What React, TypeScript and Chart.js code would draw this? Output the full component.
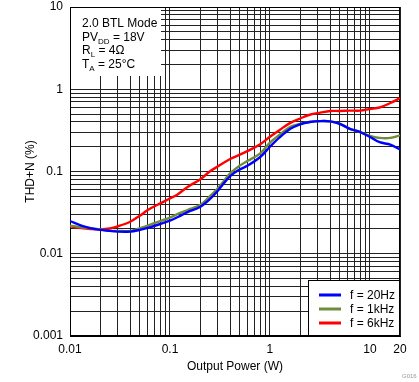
import React, { useEffect, useRef } from 'react';
import { Chart, registerables } from 'chart.js';

Chart.register(...registerables);

// Output power (W)
const power = [0.01, 0.013, 0.016, 0.02, 0.025, 0.03, 0.04, 0.05, 0.06, 0.08, 0.1, 0.12, 0.15, 0.2, 0.25, 0.3, 0.4, 0.5, 0.6, 0.8, 1.0, 1.25, 1.6, 2, 2.5, 3.2, 4, 5, 6.3, 8, 10, 12.5, 16, 20];

// THD+N (%)
const thd20Hz = [0.025, 0.022, 0.0205, 0.0195, 0.019, 0.0186, 0.0186, 0.0195, 0.0206, 0.023, 0.0253, 0.028, 0.032, 0.037, 0.046, 0.058, 0.088, 0.106, 0.118, 0.15, 0.2, 0.26, 0.33, 0.375, 0.4, 0.41, 0.407, 0.38, 0.33, 0.302, 0.263, 0.227, 0.212, 0.185];
const thd1kHz = [0.022, 0.021, 0.0205, 0.0198, 0.019, 0.0189, 0.019, 0.0205, 0.022, 0.025, 0.0275, 0.0305, 0.034, 0.039, 0.05, 0.062, 0.095, 0.118, 0.135, 0.166, 0.225, 0.28, 0.35, 0.38, 0.4, 0.41, 0.407, 0.38, 0.33, 0.302, 0.27, 0.256, 0.256, 0.275];
const thd6kHz = [0.0215, 0.0205, 0.02, 0.0198, 0.0203, 0.0215, 0.0245, 0.029, 0.034, 0.041, 0.047, 0.053, 0.065, 0.08, 0.1, 0.115, 0.142, 0.16, 0.178, 0.215, 0.265, 0.32, 0.39, 0.44, 0.49, 0.52, 0.544, 0.545, 0.55, 0.55, 0.575, 0.6, 0.68, 0.78];

const seriesLabels = ['f = 20Hz', 'f = 1kHz', 'f = 6kHz'];
const seriesColors = ['#0000FF', '#6F8C3A', '#FF0000'];

const xTickLabels = [0.01, 0.1, 1, 10, 20];
const yTickLabels = [0.001, 0.01, 0.1, 1, 10];
const xGridValues = [0.01, 0.02, 0.03, 0.04, 0.05, 0.06, 0.07, 0.08, 0.09, 0.1, 0.2, 0.3, 0.4, 0.5, 0.6, 0.7, 0.8, 0.9, 1, 2, 3, 4, 5, 6, 7, 8, 9, 10, 20];
const yGridValues = [0.001, 0.002, 0.003, 0.004, 0.005, 0.006, 0.007, 0.008, 0.009, 0.01, 0.02, 0.03, 0.04, 0.05, 0.06, 0.07, 0.08, 0.09, 0.1, 0.2, 0.3, 0.4, 0.5, 0.6, 0.7, 0.8, 0.9, 1, 2, 3, 4, 5, 6, 7, 8, 9, 10];

const xTitle = 'Output Power (W)';
const yTitle = 'THD+N (%)';
const figureId = 'G016';

// Info box lines: [main, subscript, rest]
const infoLines: [string, string, string][] = [
  ['2.0 BTL Mode', '', ''],
  ['PV', 'DD', ' = 18V'],
  ['R', 'L', ' = 4Ω'],
  ['T', 'A', ' = 25°C'],
];

const FONT = '"Liberation Sans", Arial, sans-serif';

const overlayPlugin = {
  id: 'overlay',
  beforeDatasetsDraw(chart: any) {
    const { ctx, chartArea } = chart;
    ctx.save();
    // info box
    ctx.fillStyle = '#FFFFFF';
    ctx.fillRect(chartArea.left + 1, chartArea.top + 1, 90, 68);
    ctx.fillStyle = '#000';
    ctx.textBaseline = 'alphabetic';
    let y = chartArea.top + 20;
    const x0 = chartArea.left + 12;
    infoLines.forEach(([a, sub, rest]) => {
      ctx.font = `12px ${FONT}`;
      ctx.fillText(a, x0, y);
      let x = x0 + ctx.measureText(a).width;
      if (sub) {
        ctx.font = `8px ${FONT}`;
        ctx.fillText(sub, x, y + 3);
        x += ctx.measureText(sub).width;
        ctx.font = `12px ${FONT}`;
        ctx.fillText(rest, x, y);
      }
      y += 13.5;
    });
    // border
    ctx.strokeStyle = '#000';
    ctx.lineWidth = 1;
    ctx.strokeRect(chartArea.left + 0.5, chartArea.top + 0.5, chartArea.right - chartArea.left - 1, chartArea.bottom - chartArea.top - 1);
    ctx.restore();
  },
  afterDraw(chart: any) {
    const { ctx, chartArea } = chart;
    ctx.save();
    const w = 92, h = 56;
    const lx = chartArea.right - w;
    const ly = chartArea.bottom - h;
    ctx.fillStyle = '#FFFFFF';
    ctx.fillRect(lx, ly, w, h);
    ctx.strokeStyle = '#000';
    ctx.lineWidth = 1;
    ctx.strokeRect(lx + 0.5, ly + 0.5, w - 1, h - 1);
    chart.data.datasets.forEach((ds: any, i: number) => {
      const ry = ly + 15 + i * 14;
      ctx.strokeStyle = ds.borderColor;
      ctx.lineWidth = 3;
      ctx.beginPath();
      ctx.moveTo(lx + 11, ry);
      ctx.lineTo(lx + 33, ry);
      ctx.stroke();
      ctx.fillStyle = '#000';
      ctx.font = `12px ${FONT}`;
      ctx.textBaseline = 'middle';
      ctx.fillText(ds.label, lx + 42, ry + 1);
    });
    // figure id
    ctx.fillStyle = '#999';
    ctx.font = `6px ${FONT}`;
    ctx.textBaseline = 'alphabetic';
    ctx.fillText(figureId, 402, 378);
    ctx.restore();
  },
};

export default function App() {
  const ref = useRef<HTMLCanvasElement>(null);
  useEffect(() => {
    if (!ref.current) return;
    const series = [thd20Hz, thd1kHz, thd6kHz];
    const chart = new Chart(ref.current, {
      type: 'line',
      data: {
        datasets: series.map((vals, i) => ({
          label: seriesLabels[i],
          data: power.map((p, j) => ({ x: p, y: vals[j] })),
          borderColor: seriesColors[i],
          backgroundColor: seriesColors[i],
          borderWidth: 2.4,
          pointRadius: 0,
          tension: 0.35,
          fill: false,
        })),
      },
      options: {
        animation: false,
        responsive: false,
        devicePixelRatio: 1,
        layout: { padding: { top: 7, right: 19, left: 0, bottom: 0 } },
        plugins: { legend: { display: false }, tooltip: { enabled: false } },
        scales: {
          x: {
            type: 'logarithmic',
            min: 0.01,
            max: 20,
            afterBuildTicks: (s: any) => { s.ticks = xGridValues.map((v) => ({ value: v })); },
            afterFit: (s: any) => { s.height = 46; s.paddingLeft = 0; s.paddingRight = 0; },
            ticks: {
              autoSkip: false,
              maxRotation: 0,
              padding: 6,
              color: '#000',
              font: { family: FONT, size: 12 },
              callback: (v: any) => (xTickLabels.includes(v) ? String(v) : ''),
            },
            grid: { color: '#222', lineWidth: 1, drawTicks: false, tickLength: 0 },
            border: { color: '#000', width: 1 },
            title: { display: true, text: xTitle, color: '#000', font: { family: FONT, size: 12 }, padding: { top: 0, bottom: 8 } },
          },
          y: {
            type: 'logarithmic',
            min: 0.001,
            max: 10,
            afterBuildTicks: (s: any) => { s.ticks = yGridValues.map((v) => ({ value: v })); },
            afterFit: (s: any) => { s.width = 70; s.paddingTop = 0; s.paddingBottom = 0; },
            ticks: {
              autoSkip: false,
              padding: 7,
              color: '#000',
              font: { family: FONT, size: 12 },
              callback: (v: any) => (yTickLabels.includes(v) ? String(v) : ''),
            },
            grid: { color: '#222', lineWidth: 1, drawTicks: false, tickLength: 0 },
            border: { color: '#000', width: 1 },
            title: { display: true, text: yTitle, color: '#000', font: { family: FONT, size: 12 }, padding: { top: 23, bottom: 0 } },
          },
        },
      },
      plugins: [overlayPlugin],
    } as any);
    return () => chart.destroy();
  }, []);
  return (
    <div style={{ position: 'fixed', left: 0, top: 0, width: 419, height: 382, background: '#fff' }}>
      <canvas ref={ref} width={419} height={382} style={{ display: 'block' }} />
    </div>
  );
}
